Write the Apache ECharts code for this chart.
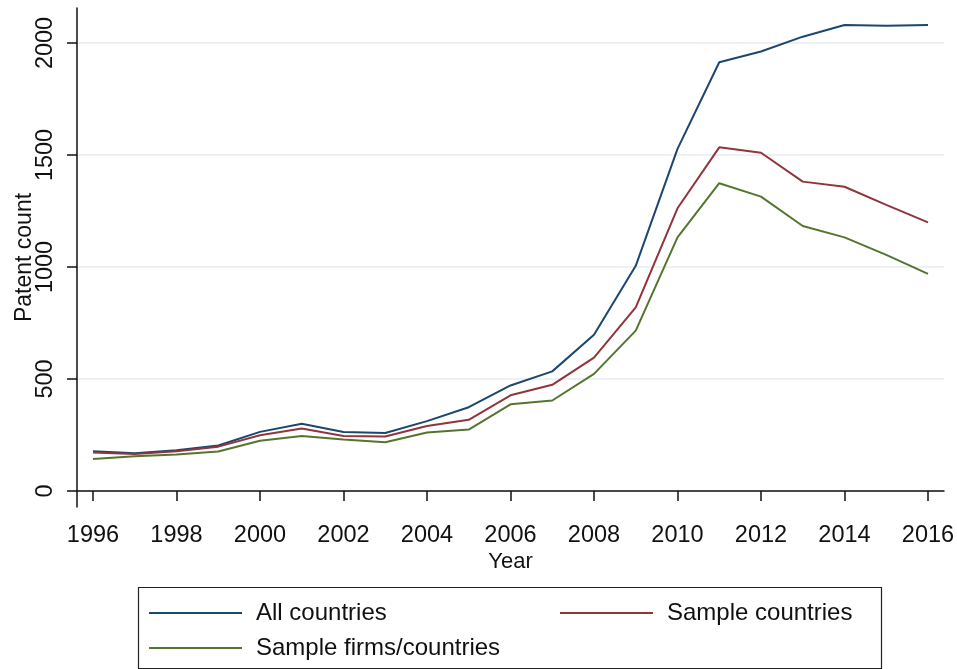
<!DOCTYPE html>
<html>
<head>
<meta charset="utf-8">
<script src="https://cdn.jsdelivr.net/npm/echarts@6/dist/echarts.min.js"></script>
<style>html,body{margin:0;padding:0;background:#fff;}#c{width:957px;height:669px;}</style>
</head>
<body>
<div id="c"></div>
<script>
const years = [1996,1997,1998,1999,2000,2001,2002,2003,2004,2005,2006,2007,2008,2009,2010,2011,2012,2013,2014,2015,2016];
const allCountries = [178,168,182,203,264,300,263,259,312,374,471,534,697,1005,1527,1914,1962,2028,2080,2077,2080];
const sampleCountries = [172,165,177,198,249,279,246,243,290,318,427,474,595,820,1262,1534,1510,1381,1358,1277,1199];
const sampleFirms = [143,155,163,176,224,246,230,218,261,274,387,404,523,716,1132,1374,1314,1183,1132,1054,969];
const xTicks = [1996,1998,2000,2002,2004,2006,2008,2010,2012,2014,2016];
const yTicks = [0,500,1000,1500,2000];
const seriesNames = ['All countries','Sample countries','Sample firms/countries'];

const font = 'Liberation Sans, Arial, Helvetica, sans-serif';
const pairs = arr => years.map((y,i)=>[y,arr[i]]);
const colors = ['#1a476f','#90353b','#55752f'];
const mk = (name, arr, color) => ({
  name, type:'line', data: pairs(arr), symbol:'none', showSymbol:false,
  lineStyle:{color, width:2}, itemStyle:{color}, animation:false
});

const chart = echarts.init(document.getElementById('c'), null, {renderer:'canvas'});
const legendBase = {
  itemWidth:93, itemHeight:14, icon:'path://M0,6 L93,6 L93,8 L0,8 Z',
  textStyle:{fontFamily:font, fontSize:24, color:'#111', padding:[0,0,0,9]},
  selectedMode:false, padding:0
};
chart.setOption({
  backgroundColor:'#fff',
  animation:false,
  grid:{left:77, right:13, top:8, bottom:162, containLabel:false, outerBoundsMode:'none'},
  xAxis:{
    type:'value', min:1995.617, max:2016.383,
    name:'Year', nameLocation:'middle', nameGap:44, nameMoveOverlap:false,
    nameTextStyle:{fontFamily:font, fontSize:22, color:'#111'},
    axisLine:{show:true, lineStyle:{color:'#111', width:1.5}},
    axisTick:{show:true, length:10, customValues:xTicks, lineStyle:{color:'#111', width:1.5}},
    axisLabel:{customValues:xTicks, fontFamily:font, fontSize:23.5, color:'#111', margin:17, formatter:v=>String(v)},
    splitLine:{show:false}
  },
  yAxis:{
    type:'value', min:-71.4, max:2156,
    name:'Patent count', nameLocation:'middle', nameGap:41, nameRotate:90, nameMoveOverlap:false,
    nameTextStyle:{fontFamily:font, fontSize:23, color:'#111'},
    axisLine:{show:true, lineStyle:{color:'#111', width:1.5}},
    axisTick:{show:true, length:10, customValues:yTicks, lineStyle:{color:'#111', width:1.5}},
    axisLabel:{customValues:yTicks, rotate:90, fontFamily:font, fontSize:23.5, color:'#111', margin:19, formatter:v=>String(v)},
    splitLine:{show:true, lineStyle:{color:'#e6eef0', width:1.5}}
  },
  legend:[
    Object.assign({}, legendBase, {data:[seriesNames[0]], left:149, top:601}),
    Object.assign({}, legendBase, {data:[seriesNames[1]], left:560, top:601}),
    Object.assign({}, legendBase, {data:[seriesNames[2]], left:149, top:636})
  ],
  graphic:[{type:'rect', shape:{x:138.5, y:587.5, width:743, height:81}, style:{fill:'none', stroke:'#222', lineWidth:1.2}}],
  series:[
    mk(seriesNames[0], allCountries, colors[0]),
    mk(seriesNames[1], sampleCountries, colors[1]),
    mk(seriesNames[2], sampleFirms, colors[2])
  ]
});
</script>
</body>
</html>
